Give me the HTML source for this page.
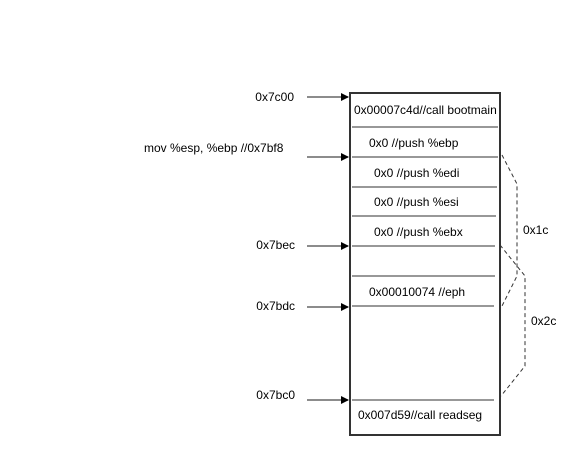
<!DOCTYPE html>
<html><head><meta charset="utf-8"><style>
html,body{margin:0;padding:0;background:#fff;}
svg{display:block;}
text{font-family:"Liberation Sans",Helvetica,Arial,sans-serif;font-size:12px;fill:#000;}
</style></head><body>
<svg width="576" height="455" viewBox="0 0 576 455" xmlns="http://www.w3.org/2000/svg">
<defs><marker id="a" markerWidth="8" markerHeight="8" refX="7" refY="4" orient="auto" markerUnits="userSpaceOnUse"><path d="M0,0 L8,4 L0,8 z" fill="#000"/></marker></defs>
<rect x="350" y="93" width="150" height="342" fill="#fff" stroke="#333" stroke-width="2"/>
<g stroke="#777" stroke-width="1.5">
<line x1="352" y1="127" x2="498" y2="127"/>
<line x1="352" y1="157" x2="498" y2="157"/>
<line x1="352" y1="187" x2="497" y2="187"/>
<line x1="352" y1="216" x2="496" y2="216"/>
<line x1="352" y1="246" x2="495" y2="246"/>
<line x1="352" y1="276" x2="495" y2="276"/>
<line x1="352" y1="306" x2="494" y2="306"/>
<line x1="352" y1="400" x2="494" y2="400"/>
</g>
<g stroke="#666" stroke-width="1.5" marker-end="url(#a)">
<line x1="307" y1="97" x2="348" y2="97"/>
<line x1="307" y1="157" x2="348" y2="157"/>
<line x1="307" y1="246" x2="348" y2="246"/>
<line x1="307" y1="307" x2="348" y2="307"/>
<line x1="307" y1="400" x2="348" y2="400"/>
</g>
<g fill="none" stroke="#333" stroke-width="1" stroke-dasharray="4,3">
<polyline points="502,155 517,184 517,276 502,306"/>
<polyline points="500,245 525,276 525,366 501,396"/>
</g>
<text x="294" y="101" text-anchor="end">0x7c00</text>
<text x="144" y="152">mov %esp, %ebp //0x7bf8</text>
<text x="295" y="249" text-anchor="end">0x7bec</text>
<text x="295" y="310" text-anchor="end">0x7bdc</text>
<text x="295" y="399" text-anchor="end">0x7bc0</text>
<text x="354" y="114">0x00007c4d//call bootmain</text>
<text x="369" y="147">0x0 //push %ebp</text>
<text x="374" y="177">0x0 //push %edi</text>
<text x="374" y="206">0x0 //push %esi</text>
<text x="374" y="236">0x0 //push %ebx</text>
<text x="369" y="296">0x00010074 //eph</text>
<text x="358" y="419">0x007d59//call readseg</text>
<text x="523" y="234">0x1c</text>
<text x="531" y="325">0x2c</text>
</svg>
</body></html>
